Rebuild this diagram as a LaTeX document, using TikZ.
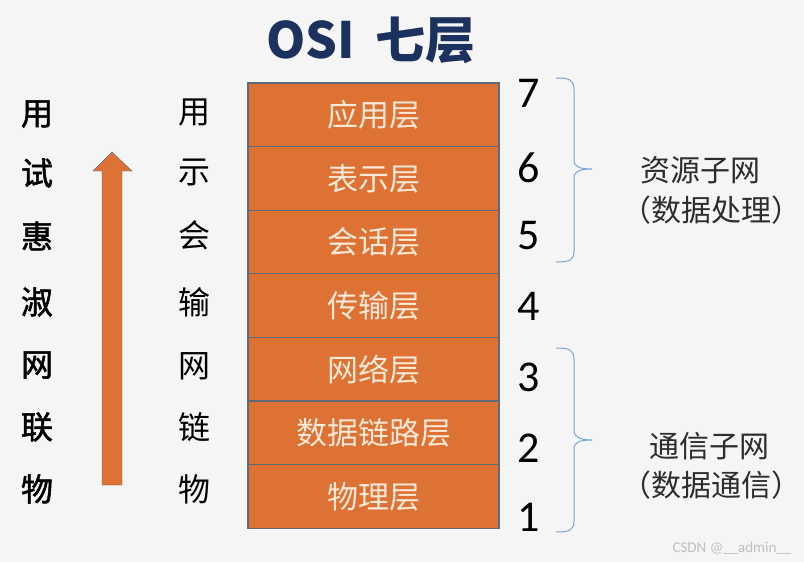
\documentclass[tikz,border=0pt]{standalone}
\usepackage{fontspec}
\setmainfont{Carlito}
\newfontfamily\cjk{Noto Sans CJK SC}
\newfontfamily\cjkhint{Noto Sans CJK SC}[FakeBold=1.6]
\usetikzlibrary{positioning}
\definecolor{bg}{RGB}{245,245,245}
\definecolor{layerfill}{RGB}{222,114,52}
\definecolor{layertext}{RGB}{252,232,214}
\definecolor{layerline}{RGB}{95,105,120}
\definecolor{titleblue}{RGB}{28,50,94}
\definecolor{bracecol}{RGB}{120,165,212}
\definecolor{labelgray}{RGB}{45,45,45}

\begin{document}
\begin{tikzpicture}[x=1pt,y=-1pt,
  layerbox/.style={draw=layerline,line width=1.2pt,fill=layerfill,text=layertext,minimum width=251pt,minimum height=63.6pt,inner sep=0pt,outer sep=0pt,font=\cjk\fontsize{31}{36}\selectfont},
  hint/.style={inner sep=0pt,font=\cjkhint\fontsize{32}{36}\selectfont},
  abbr/.style={inner sep=0pt,font=\cjk\fontsize{32}{36}\selectfont},
  num/.style={inner sep=0pt,font=\fontsize{44}{48}\selectfont},
  subnet/.style={inner sep=0pt,text=labelgray,font=\cjk\fontsize{30}{34}\selectfont},
  subbrace/.style={draw=bracecol,line width=1pt}]
  \useasboundingbox (0,0) rectangle (804,562);
  \fill[bg] (0,0) rectangle (804,562);

  \node[inner sep=0pt,text=titleblue,font=\cjk\bfseries\fontsize{50}{56}\selectfont] (title) at (371,40) {OSI\hspace{0.4em}七层};

  \node[layerbox] (7) at (373.5,114.8) {应用层};
  \node[layerbox,below=0pt of 7] (6) {表示层};
  \node[layerbox,below=0pt of 6] (5) {会话层};
  \node[layerbox,below=0pt of 5] (4) {传输层};
  \node[layerbox,below=0pt of 4] (3) {网络层};
  \node[layerbox,below=0pt of 3] (2) {数据链路层};
  \node[layerbox,below=0pt of 2] (1) {物理层};

  \node[hint] (h7) at (37,114) {用};
  \node[hint] (h6) at (37,173) {试};
  \node[hint] (h5) at (37,236) {惠};
  \node[hint] (h4) at (37,302) {淑};
  \node[hint] (h3) at (37,365) {网};
  \node[hint] (h2) at (37,427) {联};
  \node[hint] (h1) at (37,489) {物};

  \node[abbr] (a7) at (194,113) {用};
  \node[abbr] (a6) at (194,173) {示};
  \node[abbr] (a5) at (194,235) {会};
  \node[abbr] (a4) at (194,302) {输};
  \node[abbr] (a3) at (194,366) {网};
  \node[abbr] (a2) at (194,427) {链};
  \node[abbr] (a1) at (194,489) {物};

  \filldraw[fill=layerfill,draw=layerline,line width=0.4pt] (102,485) -- (102,171) -- (93,171) -- (112,152) -- (132,171) -- (122,171) -- (122,485) -- cycle;

  \node[num] (n7) at (529,93) {7};
  \node[num] (n6) at (529,168) {6};
  \node[num] (n5) at (529,236) {5};
  \node[num] (n4) at (529,306) {4};
  \node[num] (n3) at (529,377) {3};
  \node[num] (n2) at (529,448) {2};
  \node[num] (n1) at (529,517) {1};

  \draw[subbrace] (556,78) .. controls (570,78) and (574,80) .. (574,90) -- (574,160) .. controls (574,167) and (580,169) .. (592,169) .. controls (580,169) and (574,171) .. (574,178) -- (574,251) .. controls (574,260) and (570,262) .. (556,262);
  \draw[subbrace] (556,348) .. controls (570,348) and (574,350) .. (574,360) -- (574,430) .. controls (574,437) and (580,440) .. (592,440) .. controls (580,440) and (574,442) .. (574,449) -- (574,521) .. controls (574,530) and (570,532) .. (556,532);

  \node[subnet] (res) at (700,170) {资源子网};
  \node[subnet] (resnote) at (711,210) {（数据处理）};
  \node[subnet] (com) at (709,446) {通信子网};
  \node[subnet] (comnote) at (711,485) {（数据通信）};

  \node[inner sep=0pt,text=black!25,font=\fontsize{15}{17}\selectfont] (mark) at (732,548) {CSDN @\_\_admin\_\_};
\end{tikzpicture}
\end{document}
